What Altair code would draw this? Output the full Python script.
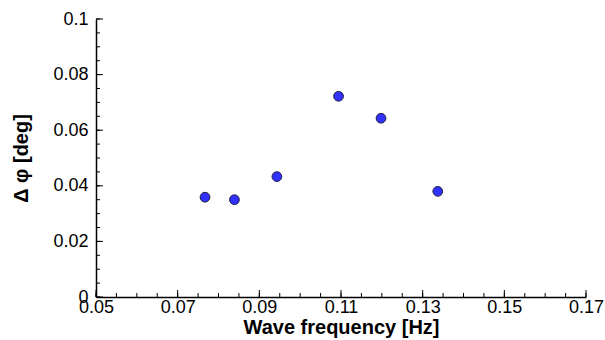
import altair as alt
import pandas as pd

freq = [0.0767, 0.0839, 0.0943, 0.1094, 0.1198, 0.1337]
dphi = [0.0359, 0.0350, 0.0433, 0.0722, 0.0643, 0.0380]

x_major = [0.05, 0.07, 0.09, 0.11, 0.13, 0.15, 0.17]
y_major = [0.0, 0.02, 0.04, 0.06, 0.08, 0.1]
x_minor = [round(0.05 + 0.005 * i, 3) for i in range(25)]
y_minor = [round(0.005 * i, 3) for i in range(21)]

W, H = 490, 278
FONT = "Liberation Sans"

df = pd.DataFrame({"f": freq, "d": dphi})
xs = alt.Scale(domain=[0.05, 0.17], nice=False, zero=False)
ys = alt.Scale(domain=[0, 0.1], nice=False)

x_axis = alt.Axis(values=x_major, format=".2~f", ticks=False, grid=False,
                  domainColor="black", domainWidth=1.5, labelFlush=False,
                  labelPadding=1, labelFontSize=18, labelColor="black",
                  labelFont=FONT, titleFont=FONT, titleFontSize=20,
                  titleFontWeight="bold", titleColor="black", titlePadding=1)
y_axis = alt.Axis(values=y_major, format=".2~f", ticks=False, grid=False,
                  domainColor="black", domainWidth=1.5, labelFlush=False,
                  labelPadding=8, labelFontSize=18, labelColor="black",
                  labelFont=FONT, titleFont=FONT, titleFontSize=20,
                  titleFontWeight="bold", titleColor="black", titlePadding=21)
XT = "Wave frequency [Hz]"
YT = "Δ φ [deg]"

points = alt.Chart(df).mark_point(
    shape="circle", filled=True, size=95, fill="#3232ff",
    stroke="#202040", strokeWidth=1, opacity=1
).encode(
    x=alt.X("f:Q", scale=xs, title=XT, axis=x_axis),
    y=alt.Y("d:Q", scale=ys, title=YT, axis=y_axis),
)

def xticks(vals, length):
    return alt.Chart(pd.DataFrame({"v": vals})).mark_rule(color="black", strokeWidth=1).encode(
        x=alt.X("v:Q", scale=xs, title=XT, axis=x_axis), y=alt.value(H), y2=alt.value(H - length))

def yticks(vals, length):
    return alt.Chart(pd.DataFrame({"v": vals})).mark_rule(color="black", strokeWidth=1).encode(
        y=alt.Y("v:Q", scale=ys, title=YT, axis=y_axis), x=alt.value(0), x2=alt.value(length))

chart = alt.layer(
    points, xticks(x_minor, 4), xticks(x_major, 7), yticks(y_minor, 4), yticks(y_major, 7)
).properties(
    width=W, height=H,
    autosize=alt.AutoSizeParams(type="none"),
    padding={"left": 96, "top": 19, "right": 19, "bottom": 43},
    background="white",
).configure_view(stroke=None)

chart.save("out.html", embed_options={"renderer": "svg", "actions": False})
